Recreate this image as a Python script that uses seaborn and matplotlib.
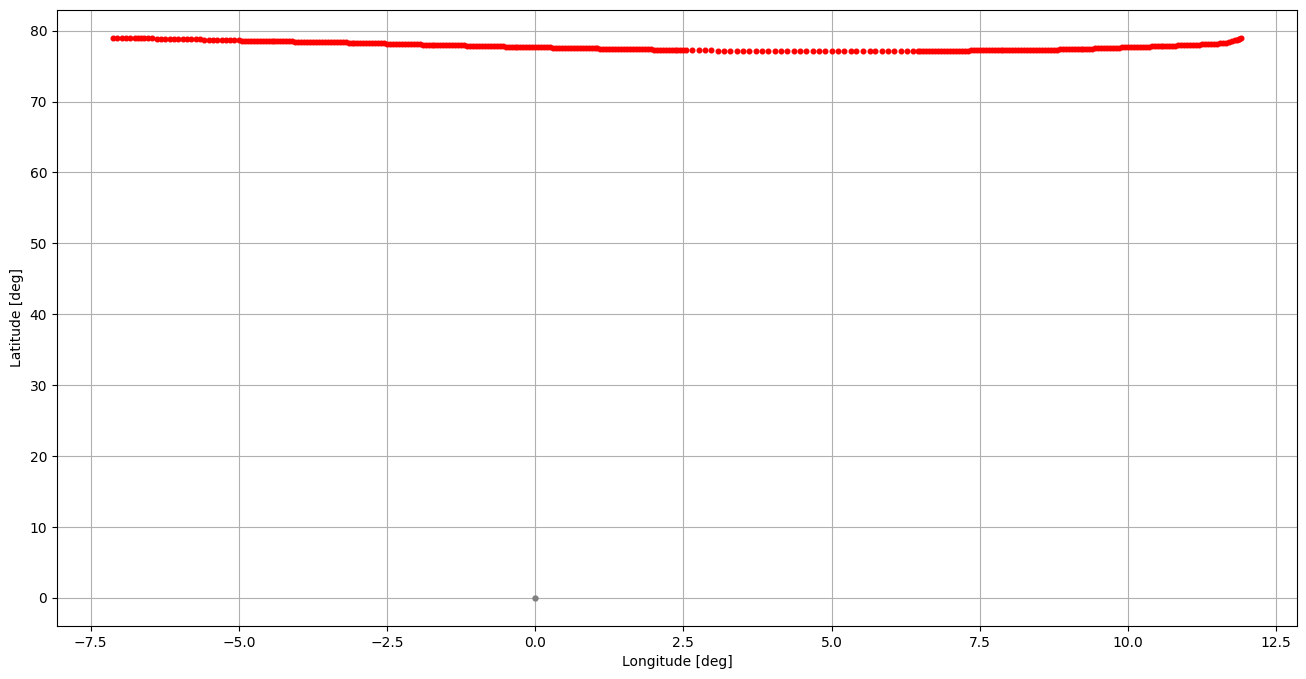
import pandas as pd
import matplotlib
matplotlib.use("Agg")
import matplotlib.pyplot as plt
import seaborn as sns

# ground track, grouped by segment
# sparse western part
west_lon = [-7.12, -7.05, -6.97, -6.90, -6.83, -6.75, -6.70, -6.66, -6.60, -6.53, -6.46,
            -6.39, -6.32, -6.24, -6.17, -6.10, -6.02, -5.95, -5.88, -5.81, -5.73, -5.66,
            -5.59, -5.51, -5.44, -5.37, -5.29, -5.22, -5.15, -5.08, -5.00]
west_lat = [79.0] * 11 + [78.85] * 11 + [78.7] * 9

# dense part from -4.95 to 2.55
dense_w_lon = [-4.95, -4.90, -4.85, -4.80, -4.75, -4.70, -4.65, -4.60, -4.55, -4.50, -4.45, -4.40,
               -4.35, -4.30, -4.25, -4.20, -4.15, -4.10,
               -4.05, -4.00, -3.95, -3.90, -3.85, -3.80, -3.75, -3.70, -3.65, -3.60, -3.55, -3.50,
               -3.45, -3.40, -3.35, -3.30, -3.25, -3.20,
               -3.15, -3.10, -3.05, -3.00, -2.95, -2.90, -2.85, -2.80, -2.75, -2.70, -2.65, -2.60, -2.55,
               -2.50, -2.45, -2.40, -2.35, -2.30, -2.25, -2.20, -2.15, -2.10, -2.05, -2.00, -1.95,
               -1.90, -1.85, -1.80, -1.75, -1.70, -1.65, -1.60, -1.55, -1.50, -1.45, -1.40, -1.35,
               -1.30, -1.25, -1.20,
               -1.15, -1.10, -1.05, -1.00, -0.95, -0.90, -0.85, -0.80, -0.75, -0.70, -0.65, -0.60, -0.55,
               -0.50, -0.45, -0.40, -0.35, -0.30, -0.25, -0.20, -0.15, -0.10, -0.05, 0.00, 0.05,
               0.10, 0.15, 0.20, 0.25,
               0.30, 0.35, 0.40, 0.45, 0.50, 0.55, 0.60, 0.65, 0.70, 0.75, 0.80, 0.85, 0.90, 0.95,
               1.00, 1.05,
               1.10, 1.15, 1.20, 1.25, 1.30, 1.35, 1.40, 1.45, 1.50, 1.55, 1.60, 1.65, 1.70, 1.75,
               1.80, 1.85, 1.90, 1.95,
               2.00, 2.05, 2.10, 2.15, 2.20, 2.25, 2.30, 2.35, 2.40, 2.45, 2.50, 2.55]
dense_w_lat = ([78.55] * 18 + [78.4] * 18 + [78.26] * 13 + [78.12] * 12 + [77.98] * 15
               + [77.85] * 13 + [77.72] * 16 + [77.58] * 16 + [77.45] * 18 + [77.32] * 12)

# sparse middle part
mid_lon = [2.65, 2.76, 2.86, 2.97,
           3.08, 3.18, 3.29, 3.40, 3.50, 3.61, 3.72, 3.82, 3.93, 4.04, 4.14, 4.25, 4.36, 4.46,
           4.57, 4.68, 4.78, 4.89, 5.00, 5.10, 5.21, 5.32, 5.42, 5.53, 5.64, 5.74, 5.85, 5.96,
           6.06, 6.17, 6.28, 6.38]
mid_lat = [77.28] * 4 + [77.15] * 32

# dense eastern part
dense_e_lon = [6.45, 6.50, 6.55, 6.60, 6.65, 6.70, 6.75, 6.80, 6.85, 6.90, 6.95, 7.00, 7.05, 7.10,
               7.15, 7.20, 7.25, 7.30,
               7.35, 7.40, 7.45, 7.50, 7.55, 7.60, 7.65, 7.70, 7.75, 7.80, 7.85, 7.90, 7.95, 8.00,
               8.05, 8.10, 8.15, 8.20, 8.25, 8.30, 8.35, 8.40, 8.45, 8.50, 8.55, 8.60, 8.65, 8.70,
               8.75, 8.80,
               8.85, 8.90, 8.95, 9.00, 9.05, 9.10, 9.15, 9.20, 9.25, 9.30, 9.35, 9.40,
               9.45, 9.50, 9.55, 9.60, 9.65, 9.70, 9.75, 9.80, 9.85,
               9.90, 9.95, 10.00, 10.05, 10.10, 10.15, 10.20, 10.25, 10.30, 10.35,
               10.40, 10.45, 10.50, 10.55, 10.60, 10.65, 10.70, 10.75, 10.80,
               10.85, 10.90, 10.95, 11.00, 11.05, 11.10, 11.15, 11.20,
               11.25, 11.30, 11.35, 11.40, 11.45, 11.50,
               11.55, 11.60, 11.65,
               11.70, 11.75, 11.80, 11.84, 11.87, 11.88, 11.90]
dense_e_lat = ([77.15] * 18 + [77.28] * 30 + [77.42] * 12 + [77.55] * 9 + [77.7] * 10
               + [77.85] * 9 + [78.0] * 8 + [78.15] * 6 + [78.3] * 3
               + [78.42, 78.52, 78.62, 78.72, 78.8, 78.86, 78.92])

# reference point
ref_lon = [0.0]
ref_lat = [0.0]

track = pd.DataFrame({
    "lon": west_lon + dense_w_lon + mid_lon + dense_e_lon,
    "lat": west_lat + dense_w_lat + mid_lat + dense_e_lat,
})

plt.figure(figsize=(16, 8))
ax = sns.scatterplot(data=track, x="lon", y="lat", marker=".", s=44,
                     color="red", edgecolor="red", linewidth=1, zorder=3)
sns.scatterplot(x=ref_lon, y=ref_lat, marker=".", s=50, color="grey",
                edgecolor="grey", linewidth=1, zorder=3, ax=ax)

ax.grid(True)
ax.set_xlabel("Longitude [deg]")
ax.set_ylabel("Latitude [deg]")

plt.savefig("out.png", bbox_inches="tight")
